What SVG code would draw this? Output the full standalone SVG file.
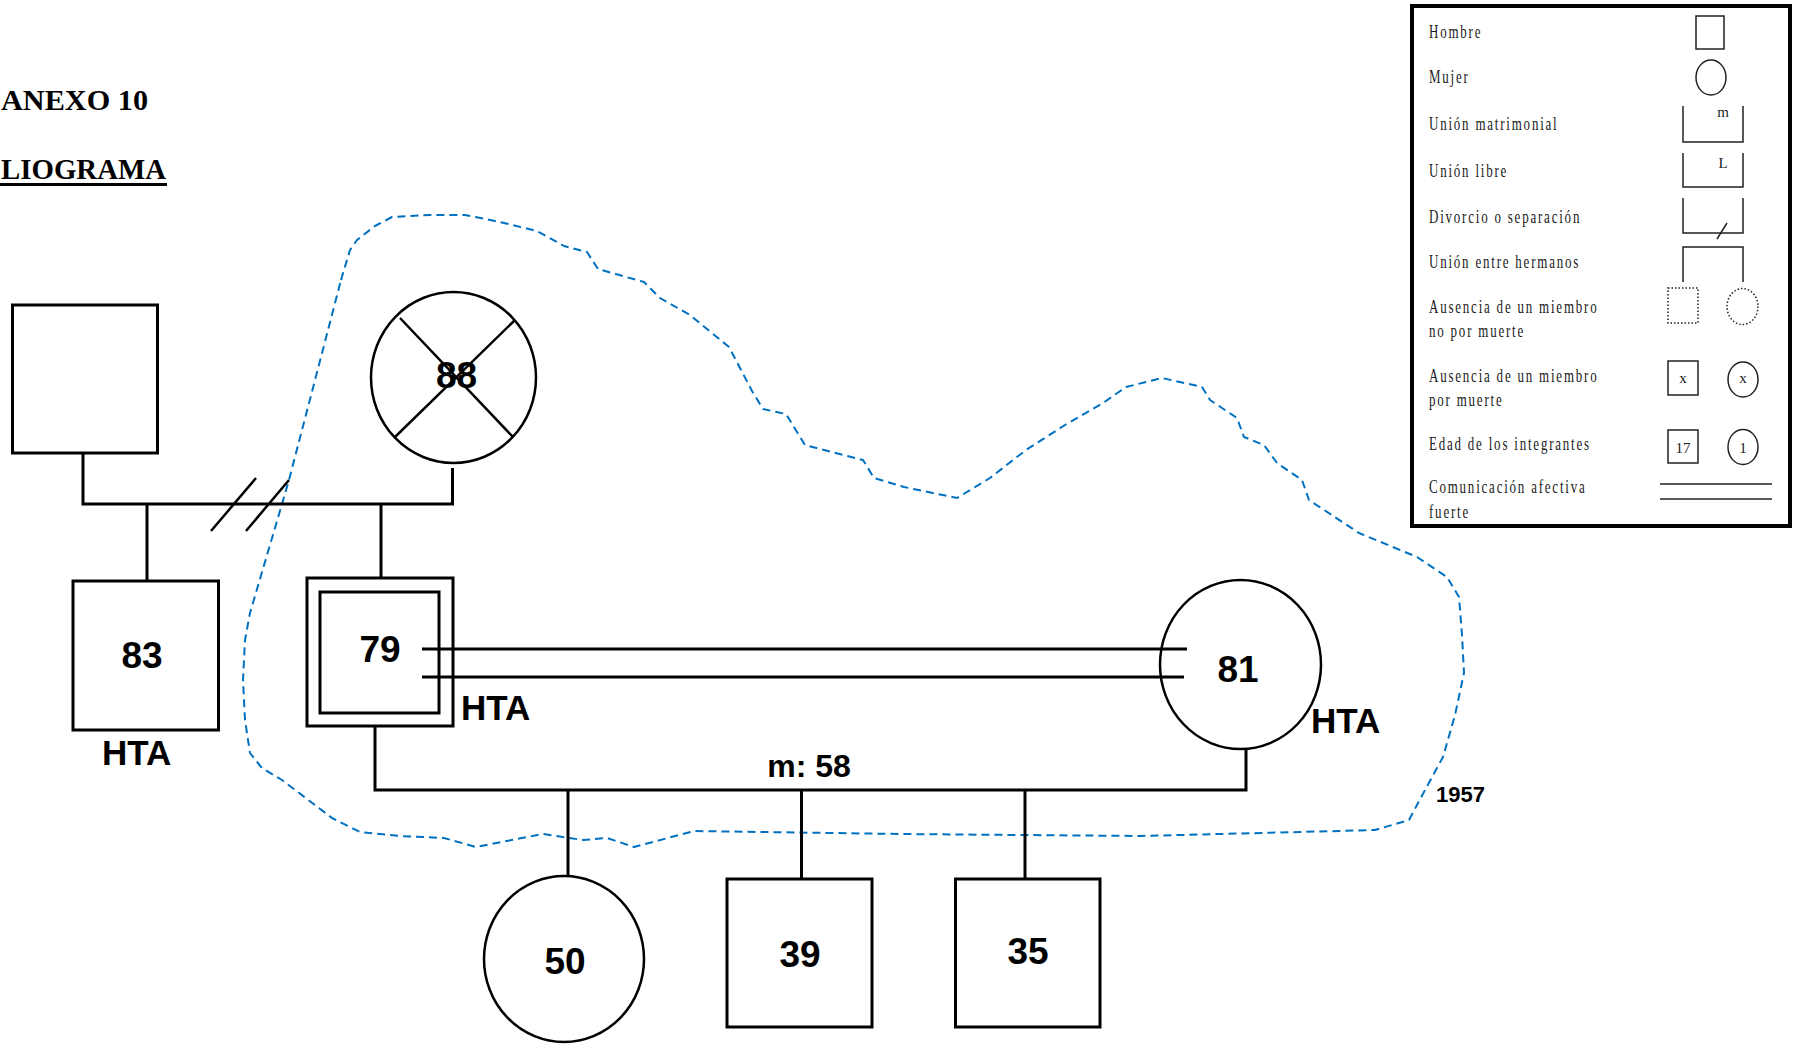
<svg xmlns="http://www.w3.org/2000/svg" width="1794" height="1044" viewBox="0 0 1794 1044">
  <style>
    .ln { stroke: #000; stroke-width: 3; fill: none; }
    .thin { stroke: #000; stroke-width: 2.5; fill: none; }
    .node { stroke: #000; stroke-width: 3; fill: #fff; }
    .frame { stroke: #000; stroke-width: 3; fill: none; }
    .lab { font-family: "Liberation Sans", Arial, sans-serif; font-weight: bold; fill: #000; }
    .age { font-size: 37px; text-anchor: middle; }
    .hta { font-size: 35px; }
    .title { font-family: "Liberation Serif", "Times New Roman", serif; font-weight: bold; font-size: 30px; fill: #000; }
    .leg { font-family: "Liberation Serif", "Times New Roman", serif; font-size: 18px; letter-spacing: 2.5px; fill: #1a1a1a; }
    .sym { stroke: #222; stroke-width: 1.5; fill: none; }
    .dot { stroke: #222; stroke-width: 1.5; fill: none; stroke-dasharray: 1.5 2; }
    .symtxt { font-family: "Liberation Serif", "Times New Roman", serif; font-size: 15px; fill: #222; text-anchor: middle; }
  </style>

  <rect width="1794" height="1044" fill="#fff"/>

  <!-- headings -->
  <text class="title" x="1" y="110" textLength="147" lengthAdjust="spacingAndGlyphs">ANEXO 10</text>
  <text class="title" x="1" y="179" textLength="165" lengthAdjust="spacingAndGlyphs">LIOGRAMA</text>
  <rect x="0" y="183" width="167" height="3" fill="#000"/>

  <!-- household boundary -->
  <polyline fill="none" stroke="#0070C0" stroke-width="2" stroke-dasharray="8 5" stroke-linejoin="round"
    points="341,280 350,250 357,240 375,226 392,217 430,215 465,215 500,222 537,231 564,246 587,252 598,269 644,282 660,298 690,315 729,347 740,368 752,391 763,409 786,414 805,445 863,460 874,478 904,487 957,498 990,478 1026,450 1065,425 1103,403 1126,387 1162,378 1202,387 1210,400 1237,418 1244,437 1264,445 1277,463 1302,480 1309,500 1359,533 1417,557 1447,577 1459,597 1462,635 1464,673 1455,715 1443,757 1425,790 1409,820 1375,830 1300,832 1140,836 900,834 694,831 634,847 607,838 583,840 543,834 476,847 444,838 400,836 360,832 332,818 282,780 262,768 250,753 245,720 243,680 245,640 250,613 270,545 289,480 315,380 341,280"/>
  <text class="lab" x="1436" y="802" font-size="22">1957</text>

  <!-- grandfather -->
  <g id="grandfather">
    <rect class="node" x="12.5" y="305" width="145" height="148"/>
  </g>

  <!-- grandmother (deceased) -->
  <g id="grandmother">
    <ellipse cx="453.5" cy="377.5" rx="82.5" ry="85.5" fill="#fff" stroke="#000" stroke-width="2.5"/>
    <text class="lab age" x="456.5" y="388" font-size="35">88</text>
    <line class="thin" x1="400" y1="318" x2="513" y2="437"/>
    <line class="thin" x1="515" y1="320" x2="395" y2="437"/>
  </g>

  <!-- uncle 83 -->
  <g id="uncle83">
    <rect class="node" x="73" y="581" width="145.5" height="149"/>
    <text class="lab age" x="142" y="668">83</text>
    <text class="lab hta" x="102" y="765">HTA</text>
  </g>

  <!-- index person 79 -->
  <g id="father79">
    <rect class="frame" x="307" y="578" width="146" height="148"/>
    <rect class="frame" x="320" y="592" width="119" height="121"/>
    <text class="lab age" x="380" y="662">79</text>
    <text class="lab hta" x="461" y="720">HTA</text>
  </g>

  <!-- spouse 81 -->
  <g id="mother81">
    <ellipse cx="1240.5" cy="664.5" rx="80.5" ry="84.5" fill="none" stroke="#000" stroke-width="2.5"/>
    <text class="lab age" x="1238" y="682">81</text>
    <text class="lab hta" x="1311" y="733">HTA</text>
  </g>

  <!-- children -->
  <g id="daughter50">
    <ellipse cx="564" cy="959" rx="80" ry="83" fill="#fff" stroke="#000" stroke-width="2.5"/>
    <text class="lab age" x="565" y="974">50</text>
  </g>
  <g id="son39">
    <rect class="node" x="727" y="879" width="145" height="148"/>
    <text class="lab age" x="800" y="967">39</text>
  </g>
  <g id="son35">
    <rect class="node" x="955.5" y="879" width="144.5" height="148"/>
    <text class="lab age" x="1028" y="964">35</text>
  </g>

  <!-- connectors -->
  <g id="connectors">
    <polyline class="ln" points="83,453 83,504 452.5,504 452.5,468"/>
    <line class="ln" x1="147" y1="504" x2="147" y2="581"/>
    <line class="ln" x1="381" y1="504" x2="381" y2="578"/>
    <line class="thin" x1="211" y1="531" x2="256" y2="478"/>
    <line class="thin" x1="246" y1="531" x2="289" y2="480"/>
    <line class="ln" x1="422" y1="649" x2="1187" y2="649"/>
    <line class="ln" x1="422" y1="677" x2="1184" y2="677"/>
    <polyline class="ln" points="375,726 375,790 1246,790 1246,749"/>
    <line class="ln" x1="568" y1="790" x2="568" y2="876"/>
    <line class="ln" x1="801.5" y1="790" x2="801.5" y2="879"/>
    <line class="ln" x1="1025" y1="790" x2="1025" y2="879"/>
    <text class="lab" x="809" y="777" font-size="32" text-anchor="middle">m: 58</text>
  </g>

  <!-- legend -->
  <g id="legend">
    <rect x="1412" y="6" width="378" height="520" fill="#fff" stroke="#000" stroke-width="4"/>
    <text class="leg" transform="translate(1429,38) scale(0.72,1)">Hombre</text>
    <text class="leg" transform="translate(1429,83) scale(0.72,1)">Mujer</text>
    <text class="leg" transform="translate(1429,130) scale(0.72,1)">Unión matrimonial</text>
    <text class="leg" transform="translate(1429,177) scale(0.72,1)">Unión libre</text>
    <text class="leg" transform="translate(1429,223) scale(0.72,1)">Divorcio o separación</text>
    <text class="leg" transform="translate(1429,268) scale(0.72,1)">Unión entre hermanos</text>
    <text class="leg" transform="translate(1429,313) scale(0.72,1)">Ausencia de un miembro</text>
    <text class="leg" transform="translate(1429,337) scale(0.72,1)">no por muerte</text>
    <text class="leg" transform="translate(1429,382) scale(0.72,1)">Ausencia de un miembro</text>
    <text class="leg" transform="translate(1429,406) scale(0.72,1)">por muerte</text>
    <text class="leg" transform="translate(1429,450) scale(0.72,1)">Edad de los integrantes</text>
    <text class="leg" transform="translate(1429,493) scale(0.72,1)">Comunicación afectiva</text>
    <text class="leg" transform="translate(1429,518) scale(0.72,1)">fuerte</text>

    <rect class="sym" x="1696" y="16" width="28" height="33"/>
    <ellipse class="sym" cx="1711" cy="77.5" rx="15" ry="17.5"/>
    <polyline class="sym" points="1683,106 1683,142 1743,142 1743,106"/>
    <text class="symtxt" x="1723" y="117">m</text>
    <polyline class="sym" points="1683,153 1683,187 1743,187 1743,153"/>
    <text class="symtxt" x="1723" y="168">L</text>
    <polyline class="sym" points="1683,198 1683,233 1743,233 1743,198"/>
    <line class="sym" x1="1717" y1="239" x2="1727" y2="223"/>
    <polyline class="sym" points="1683,282 1683,247 1743,247 1743,282"/>
    <rect class="dot" x="1668" y="288" width="30" height="35"/>
    <ellipse class="dot" cx="1742.5" cy="306.5" rx="15.5" ry="18"/>
    <rect class="sym" x="1668" y="361" width="30" height="34"/>
    <text class="symtxt" x="1683" y="383">x</text>
    <ellipse class="sym" cx="1743" cy="379.5" rx="15" ry="17.5"/>
    <text class="symtxt" x="1743" y="383">x</text>
    <rect class="sym" x="1668" y="430" width="30" height="33"/>
    <text class="symtxt" x="1683" y="453">17</text>
    <ellipse class="sym" cx="1743" cy="447" rx="15" ry="17.5"/>
    <text class="symtxt" x="1743" y="453">1</text>
    <line class="sym" x1="1660" y1="484" x2="1772" y2="484"/>
    <line class="sym" x1="1660" y1="499" x2="1772" y2="499"/>
  </g>
</svg>
